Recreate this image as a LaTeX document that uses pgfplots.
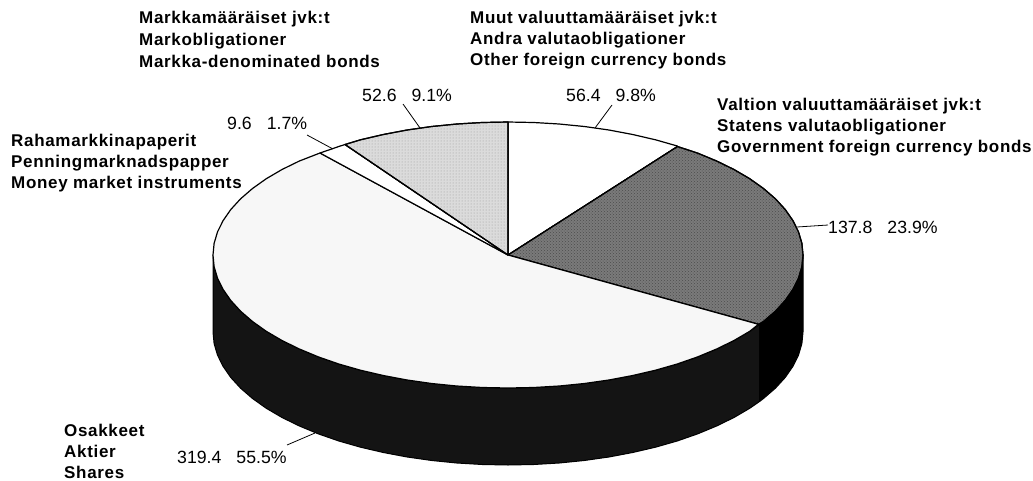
\documentclass[border=0pt]{standalone}
\usepackage{fontspec}
\setmainfont{Liberation Sans}
\usepackage{pgfplots}
\pgfplotsset{compat=1.18}
\usetikzlibrary{patterns}
\definecolor{lightst}{gray}{0.86}
\definecolor{darkst}{gray}{0.48}
\definecolor{faint}{gray}{0.97}
\newcommand{\bl}[3]{\node[anchor=base west,inner sep=0pt,font=\fontsize{17}{19}\selectfont\bfseries\addfontfeature{LetterSpace=4}] at (axis cs:#1,#2) {#3};}
\newcommand{\vl}[4]{\node[anchor=base west,inner sep=0pt,font=\fontsize{17.7}{19}\selectfont] at (axis cs:#1,#2) {#3\hspace{15pt}#4};}
\begin{document}
\begin{tikzpicture}
\begin{axis}[
  width=1033pt,height=480pt,scale only axis,
  xmin=0,xmax=1033,ymin=0,ymax=480,y dir=reverse,
  hide axis,clip=false]
\addplot[draw=none] coordinates {(0,0) (1033,480)};
% side wall, shares
\addplot[fill=black!92,draw=black,line width=1pt,line join=round] coordinates {
(213,255)(214.1,266.6)(217.5,278.1)(223.1,289.4)(230.8,300.5)(240.6,311.2)(252.5,321.5)(266.3,331.3)(282,340.5)(299.4,349)(318.4,356.9)(338.8,364)(360.5,370.2)(383.3,375.5)(407.1,380)(431.7,383.5)(456.8,386)(482.3,387.5)(508,388)(533.7,387.5)(559.2,386)(584.3,383.5)(608.9,380)(632.7,375.5)(655.5,370.2)(677.2,364)(697.6,356.9)(716.6,349)(734,340.5)(749.7,331.3)(759.8,324.3)
(759.8,401.3)(749.7,408.3)(734,417.5)(716.6,426)(697.6,433.9)(677.2,441)(655.5,447.2)(632.7,452.5)(608.9,457)(584.3,460.5)(559.2,463)(533.7,464.5)(508,465)(482.3,464.5)(456.8,463)(431.7,460.5)(407.1,457)(383.3,452.5)(360.5,447.2)(338.8,441)(318.4,433.9)(299.4,426)(282,417.5)(266.3,408.3)(252.5,398.5)(240.6,388.2)(230.8,377.5)(223.1,366.4)(217.5,355.1)(214.1,343.6)(213,332)(213,255)};
% side wall, government bonds
\addplot[fill=black,draw=black,line width=1pt,line join=round] coordinates {
(759.8,324.3)(763.5,321.5)(775.4,311.2)(785.2,300.5)(792.9,289.4)(798.5,278.1)(801.9,266.6)(803,255)(803,332)(801.9,343.6)(798.5,355.1)(792.9,366.4)(785.2,377.5)(775.4,388.2)(763.5,398.5)(759.8,401.3)(759.8,324.3)};
% other foreign currency bonds 56.4
\addplot[fill=white,draw=black,line width=1.2pt,line join=round] coordinates {
(508,255)(508,122)(533.7,122.5)(559.2,124)(584.3,126.5)(608.9,130)(632.7,134.5)(655.5,139.8)(677.2,146)(677.5,146.5)(508,255)};
% government foreign currency bonds 137.8
\addplot[fill=darkst,draw=black,line width=1.2pt,line join=round,postaction={pattern=crosshatch dots,pattern color=black!70}] coordinates {
(508,255)(677.5,146.5)(697.6,153.1)(716.6,161)(734,169.5)(749.7,178.7)(763.5,188.5)(775.4,198.8)(785.2,209.5)(792.9,220.6)(798.5,231.9)(801.9,243.4)(803,255)(801.9,266.6)(798.5,278.1)(792.9,289.4)(785.2,300.5)(775.4,311.2)(763.5,321.5)(758.5,324.3)(508,255)};
% shares 319.4
\addplot[fill=faint,draw=black,line width=1.2pt,line join=round] coordinates {
(508,255)(758.5,324.3)(749.7,331.3)(734,340.5)(716.6,349)(697.6,356.9)(677.2,364)(655.5,370.2)(632.7,375.5)(608.9,380)(584.3,383.5)(559.2,386)(533.7,387.5)(508,388)(482.3,387.5)(456.8,386)(431.7,383.5)(407.1,380)(383.3,375.5)(360.5,370.2)(338.8,364)(318.4,356.9)(299.4,349)(282,340.5)(266.3,331.3)(252.5,321.5)(240.6,311.2)(230.8,300.5)(223.1,289.4)(217.5,278.1)(214.1,266.6)(213,255)(214.1,243.4)(217.5,231.9)(223.1,220.6)(230.8,209.5)(240.6,198.8)(252.5,188.5)(266.3,178.7)(282,169.5)(299.4,161)(320,153)(508,255)};
% money market instruments 9.6
\addplot[fill=white,draw=black,line width=1.2pt,line join=round] coordinates {
(508,255)(320,153)(338.8,146.5)(345,144.5)(508,255)};
% markka bonds 52.6
\addplot[fill=lightst,draw=black,line width=1.2pt,line join=round,postaction={pattern=dots,pattern color=black!40}] coordinates {
(508,255)(345,144.5)(360.5,139.8)(383.3,134.5)(407.1,130)(431.7,126.5)(456.8,124)(482.3,122.5)(508,122)(508,255)};
% leaders
\addplot[black,line width=0.8pt] coordinates {(403,104)(420,128)};
\addplot[black,line width=0.8pt] coordinates {(307,135)(333,149)};
\addplot[black,line width=0.8pt] coordinates {(612,105)(595,128)};
\addplot[black,line width=0.8pt] coordinates {(797,227)(828,225)};
\addplot[black,line width=0.8pt] coordinates {(287,445)(315,433)};
% labels
\bl{139}{23}{Markkamääräiset jvk:t}
\bl{139}{45}{Markobligationer}
\bl{139}{67}{Markka-denominated bonds}
\bl{470}{23}{Muut valuuttamääräiset jvk:t}
\bl{470}{44}{Andra valutaobligationer}
\bl{470}{65}{Other foreign currency bonds}
\bl{717}{110}{Valtion valuuttamääräiset jvk:t}
\bl{717}{131}{Statens valutaobligationer}
\bl{717}{152}{Government foreign currency bonds}
\bl{11}{146}{Rahamarkkinapaperit}
\bl{11}{167}{Penningmarknadspapper}
\bl{11}{188}{Money market instruments}
\bl{64}{436}{Osakkeet}
\bl{64}{457}{Aktier}
\bl{64}{478}{Shares}
\vl{362}{101}{52.6}{9.1\%}
\vl{227}{129}{9.6}{1.7\%}
\vl{566}{101}{56.4}{9.8\%}
\vl{828}{233}{137.8}{23.9\%}
\vl{177}{463}{319.4}{55.5\%}
\end{axis}
\end{tikzpicture}
\end{document}
